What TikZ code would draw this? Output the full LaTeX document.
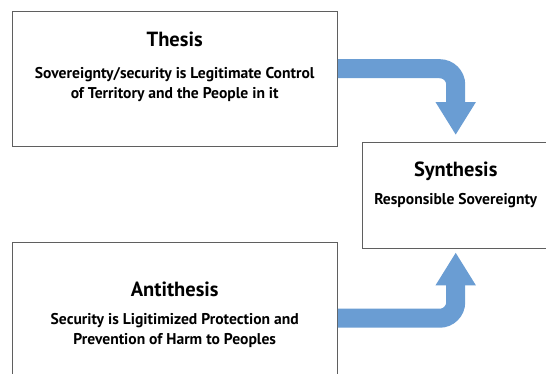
\documentclass[tikz,border=0pt]{standalone}
\usepackage{fontspec}
\setmainfont{PT Sans}
\usetikzlibrary{positioning, arrows.meta}

\definecolor{arrowblue}{RGB}{106,157,211}
\definecolor{boxline}{RGB}{95,95,95}

\begin{document}
\begin{tikzpicture}[
        x=1pt, y=-1pt,
        box/.style={draw=boxline, line width=1.4pt, rectangle, fill=white, anchor=north west, inner sep=0pt},
        title/.style={font=\fontsize{20.5}{22}\selectfont\bfseries, inner sep=0pt},
        body/.style={font=\fontsize{15.6}{19.5}\selectfont\bfseries, align=center, inner sep=0pt},
        flow/.style={draw=arrowblue, line width=19pt, rounded corners=16pt, -{Triangle[width=38pt, length=33pt]}}
    ]
        \useasboundingbox (0,0) rectangle (546,373);
        \clip (0,0) rectangle (546,373);

        \node[box, minimum width=325pt, minimum height=135pt] (thesis) at (11.5,11) {};
        \node[box, minimum width=186pt, minimum height=106pt] (synthesis) at (362,142) {};
        \node[box, minimum width=325pt, minimum height=151pt] (antithesis) at (11.5,242) {};

        \node[title, below=21pt of thesis.north] (thesis_title) {Thesis};
        \node[body, below=20pt of thesis_title] (thesis_text) {Sovereignty/security is Legitimate Control\\of Territory and the People in it};

        \node[title, below=20pt of synthesis.north] (synthesis_title) {Synthesis};
        \node[body, below=12pt of synthesis_title] (synthesis_text) {Responsible Sovereignty};

        \node[title, below=40pt of antithesis.north] (antithesis_title) {Antithesis};
        \node[body, below=16pt of antithesis_title] (antithesis_text) {Security is Ligitimized Protection and\\Prevention of Harm to Peoples};

        \draw[flow] ([yshift=10.5pt]thesis.east) -| ([yshift=7pt]synthesis.north);
        \draw[flow] (antithesis.east) -| ([yshift=-3pt]synthesis.south);

    \end{tikzpicture}
\end{document}
